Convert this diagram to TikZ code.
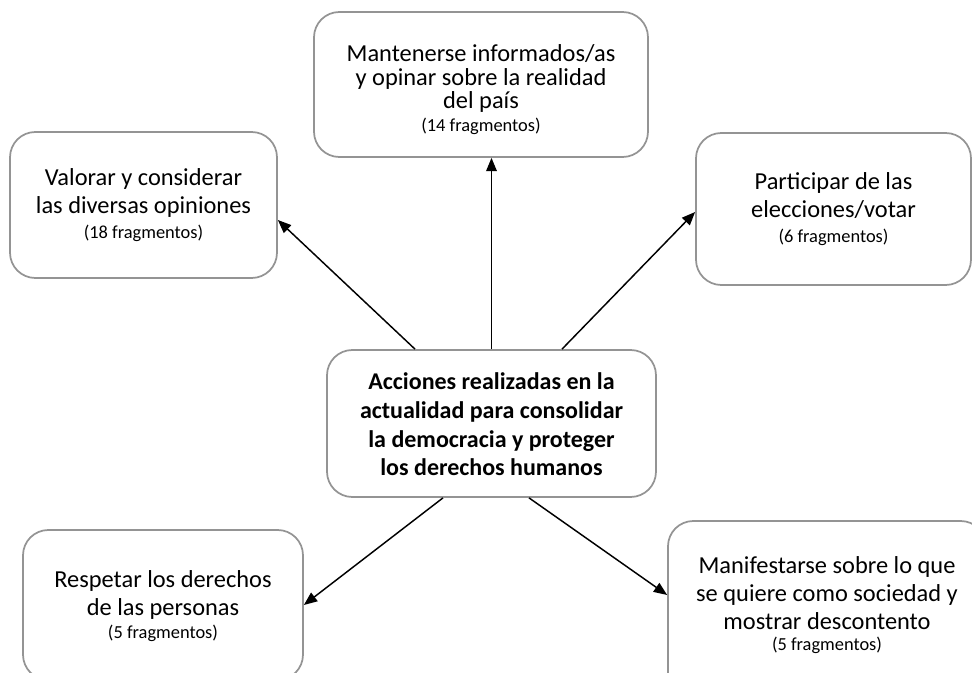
\documentclass[tikz,border=0pt]{standalone}
\usepackage{fontspec}
\setmainfont{Carlito}
\usetikzlibrary{arrows.meta,calc}
\begin{document}
\begin{tikzpicture}[x=0.75pt,y=-0.75pt,
  box/.style={draw=black!42,line width=1.3pt,rounded corners=19pt,fill=white,inner sep=0pt},
  label/.style={align=center,inner sep=0pt,font=\fontsize{18.3}{21.5}\selectfont},
  toplabel/.style={label,font=\fontsize{18.3}{17.5}\selectfont},
  mdlabel/.style={label,font=\fontsize{18.3}{21}\selectfont},
  centlabel/.style={label,font=\fontsize{18}{21.5}\selectfont\bfseries},
  conn/.style={line width=1.1pt,-{Triangle[length=10pt,width=8pt]}}]
\useasboundingbox (0,0) rectangle (972,673);
\newcommand{\fragtext}[2][18.5]{\\[#1pt-\baselineskip]{\fontsize{13.8}{15}\selectfont (#2 fragmentos)}}
% boxes
\node[box,minimum width=334*0.75pt,minimum height=145*0.75pt] (T) at (481,84.5) {};
\node[box,minimum width=267*0.75pt,minimum height=146*0.75pt] (VL) at (143.5,205) {};
\node[box,minimum width=275*0.75pt,minimum height=152*0.75pt] (PR) at (833.5,209) {};
\node[box,minimum width=329*0.75pt,minimum height=147*0.75pt] (C) at (491.5,423.5) {};
\node[box,minimum width=280*0.75pt,minimum height=150*0.75pt] (RL) at (163,605) {};
\node[box,minimum width=318*0.75pt,minimum height=180*0.75pt] (MD) at (827,611) {};
% texts
\node[toplabel] (Tt) at ($(T.center)+(0,5)$)
  {Mantenerse informados/as\\y opinar sobre la realidad\\del país\fragtext[17]{14}};
\node[label] (VLt) at (VL.center)
  {Valorar y considerar\\las diversas opiniones\fragtext{18}};
\node[label] (PRt) at (PR.center)
  {Participar de las\\elecciones/votar\fragtext{6}};
\node[centlabel] (Ct) at ($(C.center)+(0,1)$)
  {Acciones realizadas en la\\actualidad para consolidar\\la democracia y proteger\\los derechos humanos};
\node[label] (RLt) at ($(RL.center)+(0,1)$)
  {Respetar los derechos\\de las personas\fragtext[17]{5}};
\node[mdlabel] (MDt) at ($(MD.center)+(0,-6)$)
  {Manifestarse sobre lo que\\se quiere como sociedad y\\mostrar descontento\fragtext[15.5]{5}};
% connectors
\draw[conn] (C.north) -- (C.north |- T.south);
\draw[conn] ($(C.north)+(-76.5,0)$) -- ($(VL.east)+(0,15)$);
\draw[conn] ($(C.north)+(70.5,0)$) -- ($(PR.west)+(0,3)$);
\draw[conn] ($(C.south)+(-48.5,0)$) -- (RL.east);
\draw[conn] ($(C.south)+(37.5,0)$) -- ($(MD.west)+(0,-16)$);
\end{tikzpicture}
\end{document}
